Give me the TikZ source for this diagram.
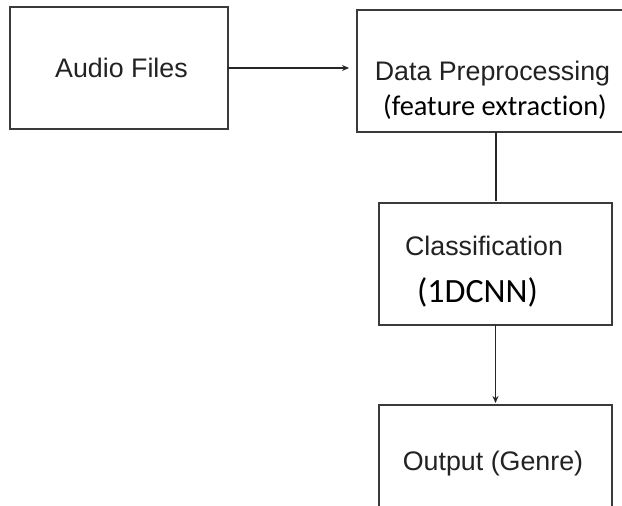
\documentclass[tikz,border=0pt]{standalone}
\usepackage{fontspec}
\setmainfont{Liberation Sans}
\newfontfamily\calib[Ligatures={NoCommon,NoDiscretionary,NoContextual}]{Carlito}
\usetikzlibrary{arrows.meta}
\definecolor{boxline}{HTML}{3A3A3A}
\definecolor{txt}{HTML}{222222}
\tikzset{
  box/.style={draw=boxline, line width=1.4pt, fill=white, inner sep=0pt, outer sep=0pt},
  lbl/.style={anchor=base, inner sep=0pt, text=txt, font=\fontsize{26.8}{30}\selectfont},
  cal/.style={anchor=base, inner sep=0pt, text=black},
  conn/.style={draw=black!85, line width=1.4pt},
  tip/.style={-{Stealth[length=7pt,width=6pt]}}
}
\begin{document}
\begin{tikzpicture}[x=1pt,y=-1pt]
\fill[white] (0,0) rectangle (622,506);
\useasboundingbox (0,0) rectangle (622,506);
\clip (0,0) rectangle (622,506);
\node[box, minimum width=218pt, minimum height=122pt] (audio) at (119,68) {};
\node[box, minimum width=273pt, minimum height=122pt] (data) at (493.5,71) {};
\node[box, minimum width=233pt, minimum height=122pt] (class) at (495.5,264) {};
\node[box, minimum width=233pt, minimum height=122pt] (out) at (495.5,466) {};
\node[lbl] (tA) at (121.5,77) {Audio Files};
\node[lbl] (tD) at (492.5,80) {Data Preprocessing};
\node[cal, font=\calib\fontsize{28.4}{32}\selectfont] (tF) at (495,115) {(feature extraction)};
\node[lbl] (tC) at (484,255) {Classification};
\node[cal, font=\calib\fontsize{34}{38}\selectfont] (tN) at (477.5,302) {(1DCNN)};
\node[lbl] (tO) at (493,470) {Output (Genre)};
\draw[conn, tip, shorten >=8pt] (audio.east) -- (audio.east -| data.west);
\draw[conn, line width=2pt, shorten >=2pt] (data.south -| class.north) -- (class.north);
\draw[conn, tip, shorten >=2pt] (class.south) -- (out.north);
\end{tikzpicture}
\end{document}
